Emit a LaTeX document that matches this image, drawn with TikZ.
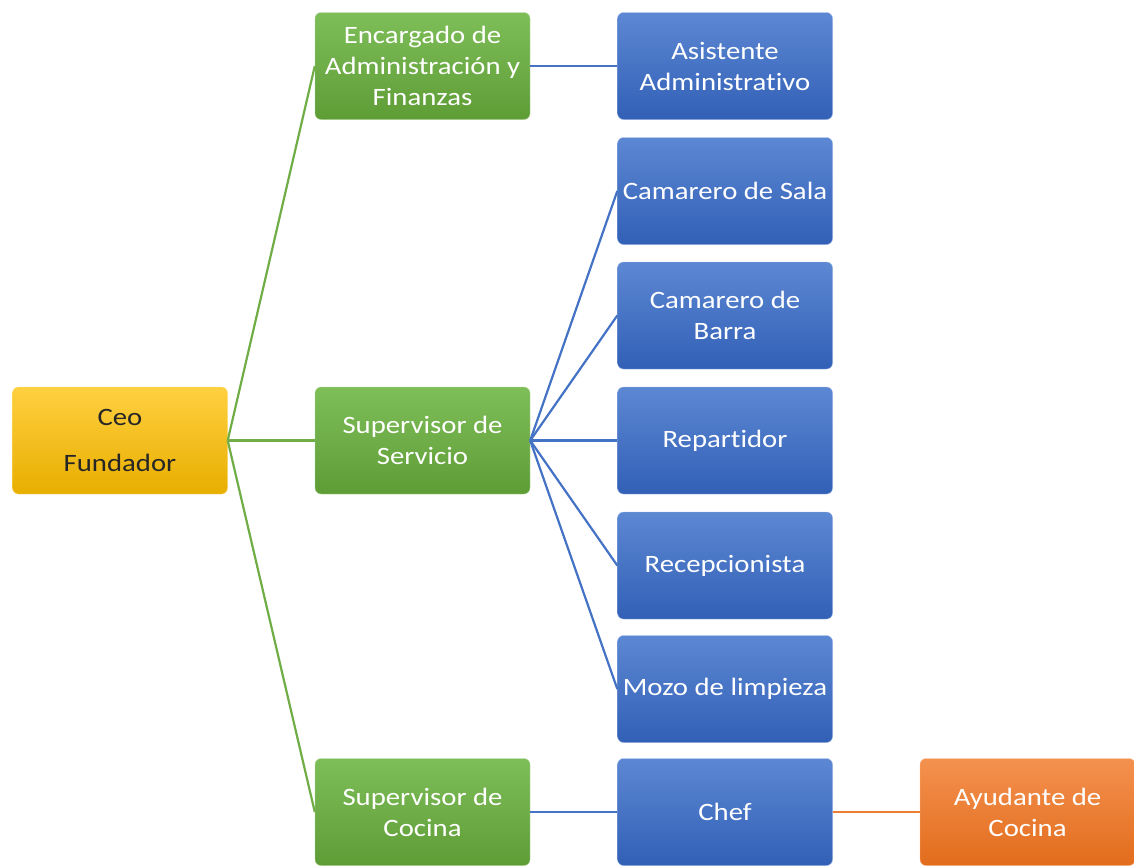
\documentclass[tikz,border=0pt]{standalone}
\usepackage{fontspec}
\setmainfont{Carlito}[FakeStretch=1.15,Ligatures=NoCommon]
\usepackage{tikz}

\definecolor{oroA}{HTML}{FFD040}
\definecolor{oroB}{HTML}{E8AE00}
\definecolor{verdeA}{HTML}{7EBE58}
\definecolor{verdeB}{HTML}{5E9C36}
\definecolor{verdeL}{HTML}{70AD47}
\definecolor{azulA}{HTML}{5C87D3}
\definecolor{azulB}{HTML}{3260B6}
\definecolor{azulL}{HTML}{4472C4}
\definecolor{naranjaA}{HTML}{F4914F}
\definecolor{naranjaB}{HTML}{E26C1C}
\definecolor{naranjaL}{HTML}{ED7D31}

\begin{document}
\begin{tikzpicture}[x=1pt,y=-1pt,
    caja/.style={rounded corners=6pt,minimum width=215pt,minimum height=107pt,
      inner sep=0pt,align=center,text=white,
      font=\fontsize{25}{31}\selectfont},
    ceo/.style={caja,top color=oroA,bottom color=oroB,draw=oroA!70,text=black!85,
      font=\fontsize{25}{46}\selectfont},
    mando/.style={caja,top color=verdeA,bottom color=verdeB,draw=verdeA!60},
    puesto/.style={caja,top color=azulA,bottom color=azulB,draw=azulA!60},
    ayuda/.style={caja,top color=naranjaA,bottom color=naranjaB,draw=naranjaA!60},
    linea/.style={line width=2.2pt}]
  \useasboundingbox (0,0) rectangle (1134,865);

  \node (ceo)   at (120,440.5)  [ceo]    {Ceo\\Fundador};
  \node (admin) at (422.5,66)   [mando]  {Encargado de\\Administración y\\Finanzas};
  \node (serv)  at (422.5,440.5)[mando]  {Supervisor de\\Servicio};
  \node (coc)   at (422.5,812)  [mando]  {Supervisor de\\Cocina};

  \node (asis)  at (725,66)     [puesto] {Asistente\\Administrativo};
  \node (sala)  at (725,191)    [puesto] {Camarero de Sala};
  \node (barra) at (725,315.5)  [puesto] {Camarero de\\Barra};
  \node (rep)   at (725,440.5)  [puesto] {Repartidor};
  \node (recep) at (725,565.5)  [puesto] {Recepcionista};
  \node (mozo)  at (725,689)    [puesto] {Mozo de limpieza};
  \node (chef)  at (725,812)    [puesto] {Chef};

  \node (ayud)  at (1027.5,812) [ayuda]  {Ayudante de\\Cocina};

  % ceo -> mandos
  \foreach \n in {admin,serv,coc}
    \draw[linea,verdeL] (ceo.east) -- (\n.west);

  % supervisor de servicio -> puestos
  \foreach \n in {sala,barra,rep,recep,mozo}
    \draw[linea,azulL] (serv.east) -- (\n.west);

  \draw[linea,azulL] (admin.east) -- (asis.west);
  \draw[linea,azulL] (coc.east) -- (chef.west);
  \draw[linea,naranjaL] (chef.east) -- (ayud.west);
\end{tikzpicture}
\end{document}
